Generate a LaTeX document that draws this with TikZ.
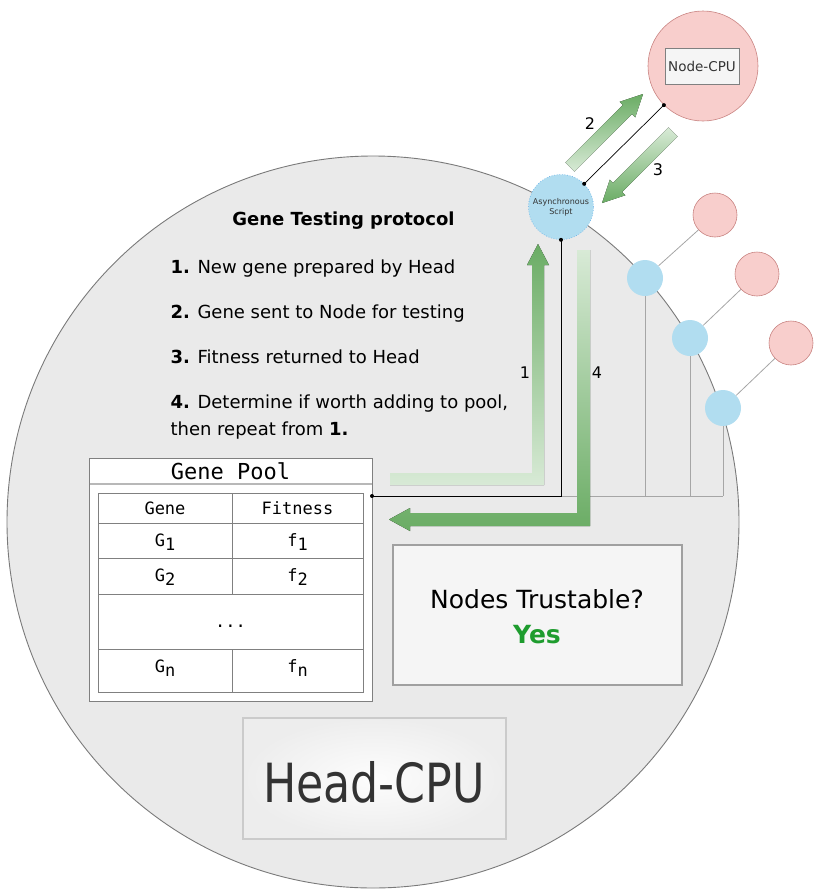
\documentclass[tikz,border=0pt]{standalone}
\usepackage{fontspec}
\setmainfont{DejaVu Sans}
\setmonofont{DejaVu Sans Mono}
\definecolor{headfill}{HTML}{EAEAEA}
\definecolor{headline}{HTML}{7A7A7A}
\definecolor{pinkfill}{HTML}{F8CECC}
\definecolor{pinkline}{HTML}{C98482}
\definecolor{bluefill}{HTML}{B1DDF0}
\definecolor{blueline}{HTML}{5AA9E6}
\definecolor{linkgray}{HTML}{A6A6A6}
\definecolor{gdark}{HTML}{6AAC64}
\definecolor{glight}{HTML}{D8EAD6}
\definecolor{yesgreen}{HTML}{1E9C2E}
\definecolor{boxfill}{HTML}{F5F5F5}
\definecolor{boxline}{HTML}{A0A0A0}
\definecolor{txtgray}{HTML}{333333}
\definecolor{tabline}{HTML}{808080}
\definecolor{hcin}{HTML}{FDFDFD}
\definecolor{hcout}{HTML}{EDEDED}
\begin{document}
\begin{tikzpicture}[x=1pt,y=-1pt,
  bigc/.style={circle, fill=headfill, draw=headline, line width=0.9pt, inner sep=0, minimum size=732pt},
  pinkc/.style={circle, fill=pinkfill, draw=pinkline, line width=0.6pt, inner sep=0},
  bluec/.style={circle, fill=bluefill, draw=blueline, dotted, line width=0.6pt, inner sep=0},
  link/.style={draw=linkgray, line width=0.8pt},
  wire/.style={draw=black, line width=0.7pt},
  proto/.style={anchor=base west, font=\fontsize{18}{20}\selectfont},
  lbl/.style={font=\fontsize{16}{18}\selectfont},
  mono/.style={font=\ttfamily\fontsize{17}{19}\selectfont},
  upgrad/.style={top color=gdark, bottom color=glight},
  downgrad/.style={top color=glight, bottom color=gdark},
]
\useasboundingbox (0,0) rectangle (820,895);
% head circle
\node[bigc] (head) at (373,522) {};

% node circles
\node[pinkc, minimum size=110pt] (nodecpu) at (703,66) {};
\node[draw=tabline, fill=boxfill, minimum width=74pt, minimum height=36pt, inner sep=0,
      font=\fontsize{13.5}{15}\selectfont, text=txtgray] (nodelabel) at (702,66) {Node-CPU};

\node[pinkc, minimum size=44pt] (p1) at (715,215) {};
\node[pinkc, minimum size=44pt] (p2) at (757,274) {};
\node[pinkc, minimum size=44pt] (p3) at (791,343) {};

% bus
\coordinate (poolport) at (372,496);
\coordinate (busend) at (723,496);

\node[bluec, draw=none, minimum size=36pt] (b1) at (645,278) {};
\node[bluec, draw=none, minimum size=36pt] (b2) at (690,338) {};
\node[bluec, draw=none, minimum size=36pt] (b3) at (723,408) {};

\draw[link] (b1) -- (p1);
\draw[link] (b2) -- (p2);
\draw[link] (b3) -- (p3);
\draw[link] (b1.south) -- (b1.south |- busend);
\draw[link] (b2.south) -- (b2.south |- busend);
\draw[link] (b3.south) -- (busend);

\node[bluec, minimum size=65pt, align=center, font=\fontsize{8}{10}\selectfont, text=txtgray] (async) at (561,207) {Asynchronous\\Script};

\draw[link] (561,496) -- (busend);

% protocol text
\node[anchor=base, font=\bfseries\fontsize{18}{20}\selectfont] (title) at (343.5,225) {Gene Testing protocol};
\node[proto] (s1) at (167,273) {\textbf{1.} New gene prepared by Head};
\node[proto] (s2) at (167,318) {\textbf{2.} Gene sent to Node for testing};
\node[proto] (s3) at (167,363) {\textbf{3.} Fitness returned to Head};
\node[proto] (s4) at (167,408) {\textbf{4.} Determine if worth adding to pool,};
\node[proto] (s5) at (167,435) {then repeat from \textbf{1.}};

% gene pool
\node[draw=tabline, fill=white, line width=0.8pt, minimum width=283pt, minimum height=243pt, anchor=north west, inner sep=0] (pool) at (89,458) {};
\draw[draw=linkgray!80, line width=1.5pt] (89.5,484) -- (371.5,484);
\node[font=\ttfamily\fontsize{22}{24}\selectfont, anchor=base] (pooltitle) at (230.5,479) {Gene Pool};
\draw[draw=tabline, line width=0.8pt] (98,493) rectangle (363,692);
\draw[draw=tabline, line width=0.8pt] (98,523) -- (363,523) (98,558) -- (363,558) (98,594) -- (363,594) (98,649) -- (363,649)
  (232,493) -- (232,594) (232,649) -- (232,692);
\node[mono, anchor=base] (hgene) at (165,514) {Gene};
\node[mono, anchor=base] (hfit) at (297.5,514) {Fitness};
\node[mono, anchor=base] (g1) at (165,546) {G\raisebox{-4pt}{1}};
\node[mono, anchor=base] (f1) at (297.5,546) {f\raisebox{-4pt}{1}};
\node[mono, anchor=base] (g2) at (165,581) {G\raisebox{-4pt}{2}};
\node[mono, anchor=base] (f2) at (297.5,581) {f\raisebox{-4pt}{2}};
\node[mono, anchor=base] (dots) at (230.5,627) {...};
\node[mono, anchor=base] (gn) at (165,672) {G\raisebox{-4pt}{n}};
\node[mono, anchor=base] (fn) at (297.5,672) {f\raisebox{-4pt}{n}};

% trust box
\node[draw=boxline, fill=boxfill, line width=1.6pt, minimum width=289pt, minimum height=140pt, inner sep=0] (trust) at (537.5,615) {};
\node[anchor=base, font=\fontsize{25}{27}\selectfont] (trustq) at (537,608) {Nodes Trustable?};
\node[anchor=base, font=\bfseries\fontsize{25}{27}\selectfont, text=yesgreen] (yes) at (537,643) {Yes};

% head-cpu box
\node[draw=boxline!55, line width=1.6pt, inner color=hcin, outer color=hcout, minimum width=263pt, minimum height=121pt, inner sep=0] (headcpu) at (374.5,778.5) {};
\node[anchor=base, font=\fontsize{54}{56}\selectfont, text=txtgray] (headtxt) at (374,802) {\scalebox{0.82}[1]{Head-CPU}};

% arrows
\fill[upgrad] (390,473) -- (532,473) -- (532,265) -- (527,265) -- (538,244) -- (549,265) -- (544,265) -- (544,485) -- (390,485) -- cycle;
\fill[downgrad] (577,250) -- (590,250) -- (590,526) -- (410,526) -- (410,531) -- (389,519.5) -- (410,508) -- (410,513) -- (577,513) -- cycle;
\fill[upgrad] (565.4,162.4) -- (622.8,105) -- (619.6,101.8) -- (643,94) -- (635.2,117.4) -- (632,114.2) -- (574.6,171.6) -- cycle;
\fill[downgrad] (668.4,127.4) -- (613,182.8) -- (609.8,179.6) -- (602,203) -- (625.4,195.2) -- (622.2,192) -- (677.6,136.6) -- cycle;

\node[lbl] (l1) at (525,373) {1};
\node[lbl] (l4) at (597,373) {4};
\node[lbl] (l2) at (590,124) {2};
\node[lbl] (l3) at (658,170) {3};

% wires
\draw[wire] (async.north east) -- (nodecpu.south west);
\fill (async.north east) circle (2);
\fill (nodecpu.south west) circle (2);
\draw[wire] (async.south) |- (poolport);
\fill (async.south) circle (2);
\fill (poolport) circle (2);
\end{tikzpicture}
\end{document}
